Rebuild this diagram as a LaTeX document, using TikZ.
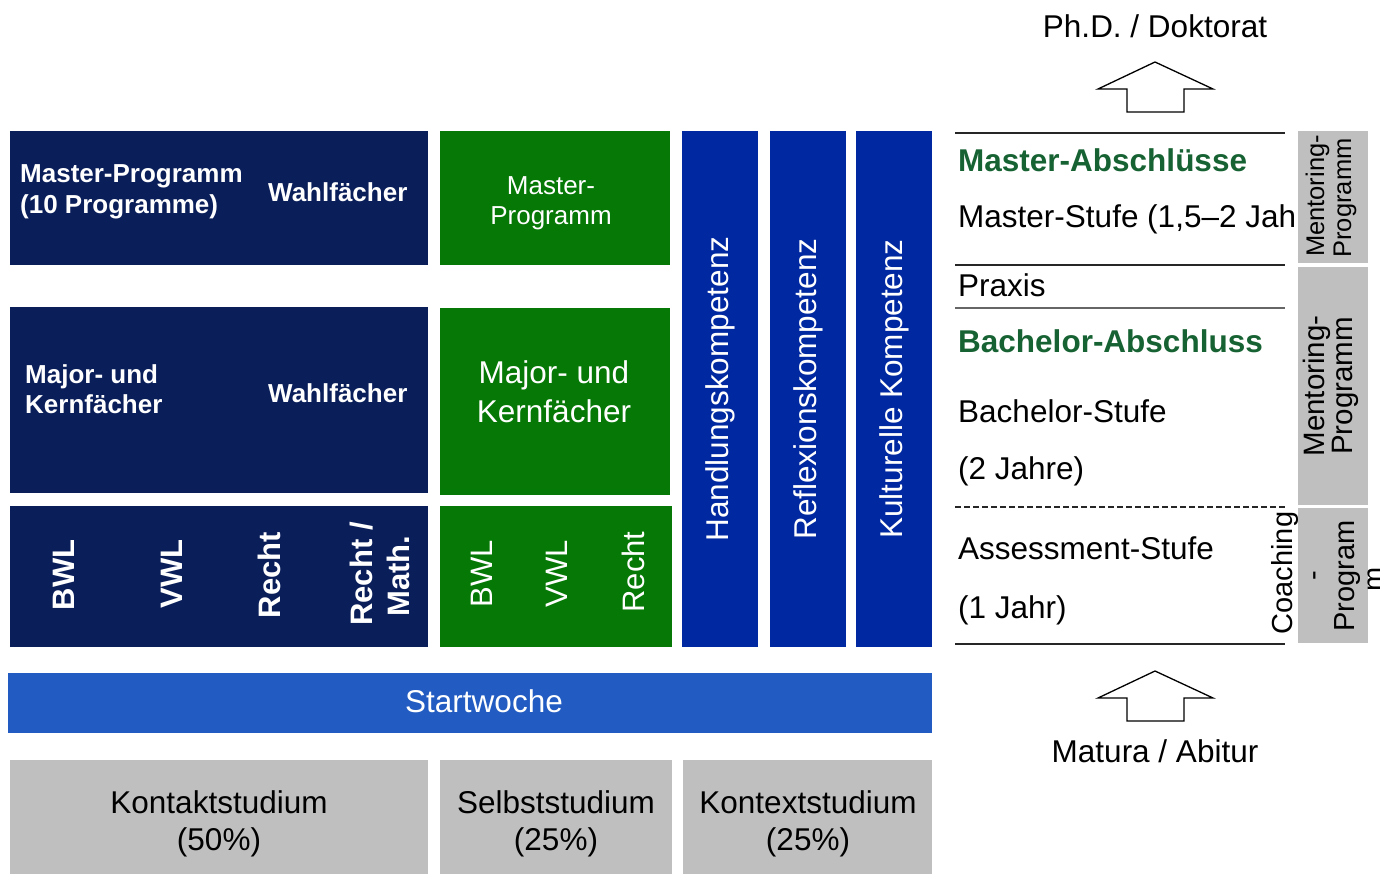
\documentclass[tikz,border=0pt]{standalone}
\usepackage{fontspec}
\setmainfont{Liberation Sans}
\definecolor{navyblock}{RGB}{10,30,90}
\definecolor{greenblock}{RGB}{5,120,5}
\definecolor{kompblue}{RGB}{0,40,160}
\definecolor{startblue}{RGB}{34,92,194}
\definecolor{stripgray}{RGB}{191,191,191}
\definecolor{titlegreen}{RGB}{22,98,50}

\begin{document}
\begin{tikzpicture}[x=1pt,y=-1pt,
  blk/.style={anchor=north west,inner sep=0,outer sep=0},
  lbl/.style={inner sep=0,anchor=base},
  lblw/.style={inner sep=0,anchor=base west},
  big/.style={font=\fontsize{31.5}{36}\selectfont},
  bigb/.style={font=\bfseries\fontsize{31.5}{36}\selectfont},
  sml/.style={font=\fontsize{26}{30}\selectfont},
  smlb/.style={font=\bfseries\fontsize{26}{30}\selectfont},
  rot/.style={inner sep=0,anchor=base,rotate=90},
  rule/.style={line width=1.3pt,black!85}]
\useasboundingbox (0,0) rectangle (1380,874);
%-------->blocks<--------------
\node[blk,fill=navyblock,minimum width=418,minimum height=134] (nav1) at (10,131) {};
\node[blk,fill=greenblock,minimum width=230,minimum height=134] (grn1) at (440,131) {};
\node[blk,fill=navyblock,minimum width=418,minimum height=186] (nav2) at (10,307) {};
\node[blk,fill=greenblock,minimum width=230,minimum height=187] (grn2) at (440,308) {};
\node[blk,fill=navyblock,minimum width=418,minimum height=141] (nav3) at (10,506) {};
\node[blk,fill=greenblock,minimum width=232,minimum height=141] (grn3) at (440,506) {};
\node[blk,fill=startblue,minimum width=924,minimum height=60] (start) at (8,673) {};
\node[blk,fill=stripgray,minimum width=418,minimum height=120] (kontakt) at (10,760) {};
\node[blk,fill=stripgray,minimum width=232,minimum height=120] (selbst) at (440,760) {};
\node[blk,fill=stripgray,minimum width=249,minimum height=120] (kontext) at (683,760) {};
%-------->competence columns<--------------
\node[fill=kompblue,text=white,big,inner sep=0,rotate=90,minimum width=516,minimum height=76] (hand) at (720,389) {Handlungskompetenz};
\node[fill=kompblue,text=white,big,inner sep=0,rotate=90,minimum width=516,minimum height=76] (refl) at (808,389) {Reflexionskompetenz};
\node[fill=kompblue,text=white,big,inner sep=0,rotate=90,minimum width=516,minimum height=76] (kult) at (894,389) {Kulturelle Kompetenz};
%-------->texts in blocks<--------------
\node[lblw,smlb,text=white] (mprog) at (20,183) {Master-Programm};
\node[lblw,smlb,text=white] (mprogz) at (20,214) {(10 Programme)};
\node[lblw,smlb,text=white] (wahl1) at (268,202) {Wahlfächer};
\node[lblw,smlb,text=white] (major) at (25,383) {Major- und};
\node[lblw,smlb,text=white] (kern) at (25,413) {Kernfächer};
\node[lblw,smlb,text=white] (wahl2) at (268,402) {Wahlfächer};
\node[lbl,sml,text=white] (gmast) at (551,195) {Master-};
\node[lbl,sml,text=white] (gprog) at (551,225) {Programm};
\node[lbl,big,text=white] (gmajor) at (554,383) {Major- und};
\node[lbl,big,text=white] (gkern) at (554,422) {Kernfächer};
% bottom row, rotated
\node[rot,font=\bfseries\fontsize{31}{36}\selectfont,text=white] (nbwl) at (74,575) {BWL};
\node[rot,font=\bfseries\fontsize{31}{36}\selectfont,text=white] (nvwl) at (182,574) {VWL};
\node[rot,font=\bfseries\fontsize{31}{36}\selectfont,text=white] (nrecht) at (280,575) {Recht};
\node[rot,font=\bfseries\fontsize{31}{36}\selectfont,text=white] (nrecht2) at (372,574) {Recht /};
\node[rot,font=\bfseries\fontsize{31}{36}\selectfont,text=white] (nmath) at (409,576) {Math.};
\node[rot,font=\fontsize{31}{36}\selectfont,text=white] (gbwl) at (492,574) {BWL};
\node[rot,font=\fontsize{31}{36}\selectfont,text=white] (gvwl) at (567,574) {VWL};
\node[rot,font=\fontsize{31}{36}\selectfont,text=white] (grecht) at (644,572) {Recht};
\node[lbl,big,text=white] (startw) at (484,712) {Startwoche};
\node[lbl,big] (kontakt1) at (219,813) {Kontaktstudium};
\node[lbl,big] (kontakt2) at (219,850) {(50\%)};
\node[lbl,big] (selbst1) at (556,813) {Selbststudium};
\node[lbl,big] (selbst2) at (556,850) {(25\%)};
\node[lbl,big] (kontext1) at (808,813) {Kontextstudium};
\node[lbl,big] (kontext2) at (808,850) {(25\%)};
%-------->right side: levels<--------------
\node[lbl,big] (phd) at (1155,38) {Ph.D. / Doktorat};
\node[lbl,big] (matura) at (1155,762) {Matura / Abitur};
\node[lblw,bigb,text=titlegreen] (mabs) at (958,172) {Master-Abschlüsse};
\node[lblw,big] (mstufe) at (958,228) {Master-Stufe (1,5–2 Jahre)};
\node[lblw,big] (praxis) at (958,297) {Praxis};
\node[lblw,bigb,text=titlegreen] (babs) at (958,352) {Bachelor-Abschluss};
\node[lblw,big] (bstufe) at (958,422) {Bachelor-Stufe};
\node[lblw,big] (bjahre) at (958,479) {(2 Jahre)};
\node[lblw,big] (astufe) at (958,559) {Assessment-Stufe};
\node[lblw,big] (ajahr) at (958,618) {(1 Jahr)};
\draw[rule] (955,133) -- (1285,133);
\draw[rule] (955,265) -- (1285,265);
\draw[line width=2.2pt,black!60] (955,308) -- (1285,308);
\draw[rule,dash pattern=on 6pt off 3pt] (955,507) -- (1285,507);
\draw[rule] (955,644) -- (1285,644);
%-------->gray strips<--------------
\node[blk,fill=stripgray,minimum width=70,minimum height=132] (ment1) at (1298,131) {};
\node[blk,fill=stripgray,minimum width=70,minimum height=238] (ment2) at (1298,267) {};
\node[blk,fill=stripgray,minimum width=70,minimum height=135] (coach) at (1298,508) {};
\node[rot,font=\fontsize{25.5}{28}\selectfont] (ment1a) at (1324,196) {Mentoring-};
\node[rot,font=\fontsize{25.5}{28}\selectfont] (ment1b) at (1351,198) {Programm};
\node[rot,font=\fontsize{29.5}{32}\selectfont] (ment2a) at (1324,386) {Mentoring-};
\node[rot,font=\fontsize{29.5}{32}\selectfont] (ment2b) at (1352,386) {Programm};
\node[rot,font=\fontsize{29}{32}\selectfont] (coacha) at (1292,573) {Coaching};
\node[rot,font=\fontsize{29}{32}\selectfont] (coachb) at (1322.5,576) {-};
\node[rot,font=\fontsize{29}{32}\selectfont] (coachc) at (1354,576) {Program};
\node[rot,font=\fontsize{29}{32}\selectfont] (coachd) at (1383.5,579) {m};
%-------->block arrows<--------------
\draw[line width=1.3pt,line join=miter] (1155,62) -- (1213,89) -- (1184,89) -- (1184,112) -- (1127,112) -- (1127,89) -- (1098,89) -- cycle;
\draw[line width=1.3pt,line join=miter] (1155,671) -- (1213,698) -- (1184,698) -- (1184,721) -- (1127,721) -- (1127,698) -- (1098,698) -- cycle;
\end{tikzpicture}
\end{document}
